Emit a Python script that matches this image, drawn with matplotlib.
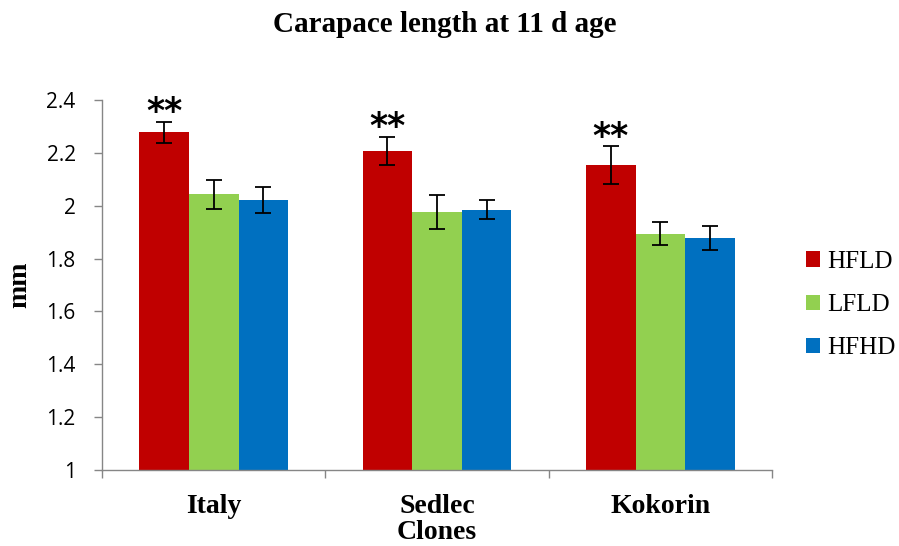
import matplotlib
matplotlib.use("Agg")
import matplotlib.pyplot as plt
import numpy as np

# values
clones = ["Italy", "Sedlec", "Kokorin"]
groups = ["HFLD", "LFLD", "HFHD"]
hfld = [2.278, 2.208, 2.153]
lfld = [2.043, 1.977, 1.894]
hfhd = [2.020, 1.985, 1.877]
hfld_err = [0.040, 0.053, 0.072]
lfld_err = [0.056, 0.065, 0.043]
hfhd_err = [0.049, 0.036, 0.046]
stars = ["**", "**", "**"]

colors = ["#C00000", "#92D050", "#0070C0"]
serif = "Liberation Serif"
axis_grey = "#868686"

fig = plt.figure(figsize=(8.99, 5.46), dpi=100)
ax = fig.add_axes([0.1135, 0.1392, 0.7452, 0.6776])

x = np.arange(len(clones))
w = 2.0 / 9
series = [(hfld, hfld_err), (lfld, lfld_err), (hfhd, hfhd_err)]
for i, (vals, errs) in enumerate(series):
    pos = x + (i - 1) * w
    ax.bar(pos, np.array(vals) - 1, w, bottom=1, color=colors[i],
           label=groups[i], linewidth=0)
    ax.errorbar(pos, vals, yerr=errs, fmt="none", ecolor="black",
                elinewidth=1.3, capsize=6, capthick=1.3)

# significance marks over the HFLD bars
for k in range(len(clones)):
    ax.annotate(stars[k], (x[k] - w, hfld[k] + hfld_err[k]),
                xytext=(0, -5.5), textcoords="offset points",
                ha="center", va="bottom", fontsize=25,
                fontweight="bold", family="DejaVu Sans")

ax.set_xlim(-0.5, 2.5)
ax.set_ylim(1, 2.4)
ax.set_yticks(np.arange(1, 2.41, 0.2))
ax.set_yticklabels(["1", "1.2", "1.4", "1.6", "1.8", "2", "2.2", "2.4"],
                   family="Open Sans", fontsize=15)

ax.set_xticks([-0.5, 0.5, 1.5, 2.5])
ax.set_xticklabels([])
ax.set_xticks(x, minor=True)
ax.set_xticklabels(clones, minor=True, family=serif, fontsize=20,
                   fontweight="bold")
ax.tick_params(axis="x", which="minor", length=0, pad=17)
ax.tick_params(axis="x", which="major", length=6, width=1.0, color=axis_grey)
ax.tick_params(axis="y", length=6, width=1.0, color=axis_grey, pad=13)

for s in ["top", "right"]:
    ax.spines[s].set_visible(False)
for s in ["left", "bottom"]:
    ax.spines[s].set_color(axis_grey)
    ax.spines[s].set_linewidth(1.0)

ax.set_xlabel("Clones", family=serif, fontsize=20, fontweight="bold",
              labelpad=1)
ax.set_ylabel("mm", family=serif, fontsize=20, fontweight="bold",
              labelpad=10)
fig.suptitle("Carapace length at 11 d age", family=serif, fontsize=21,
             fontweight="bold", x=0.495, y=0.98)

fig.legend(loc="center left", bbox_to_anchor=(0.8966, 0.4414),
           frameon=False, prop={"family": serif, "size": 18},
           handlelength=0.56, handleheight=0.56, handletextpad=0.3,
           labelspacing=0.85, borderpad=0, borderaxespad=0)

fig.savefig("out.png", dpi=100)
